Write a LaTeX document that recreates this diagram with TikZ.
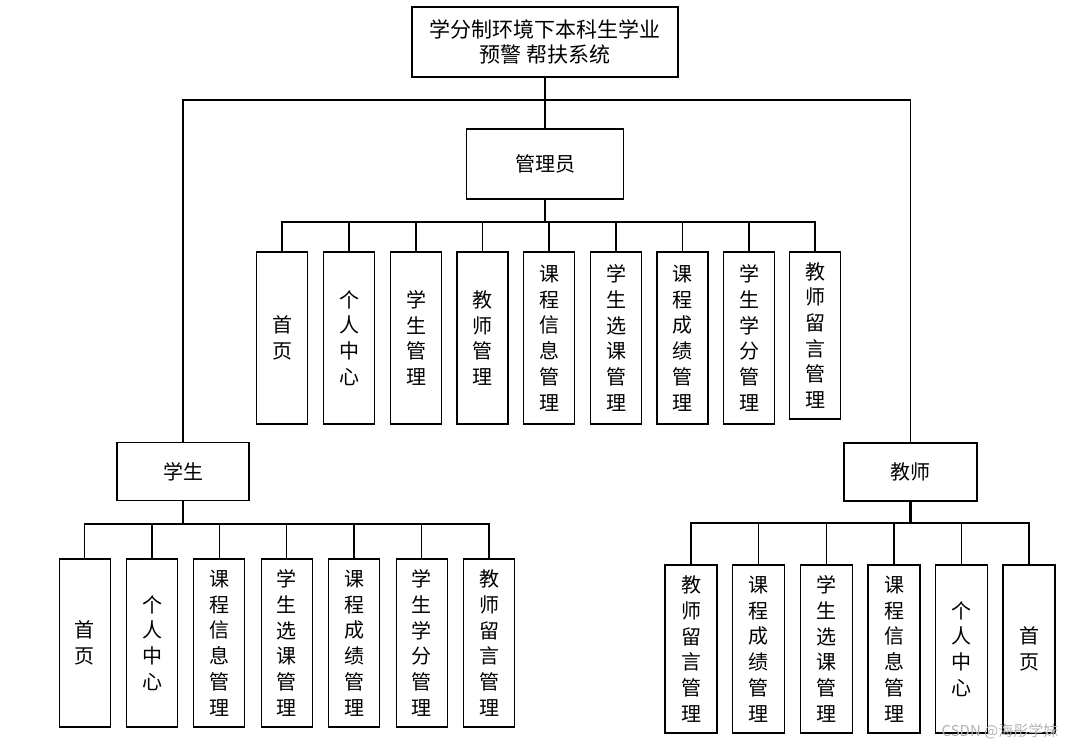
\documentclass[tikz,border=0pt]{standalone}
\usepackage{fontspec}
\newfontfamily\cjk{Noto Sans CJK SC}
\usetikzlibrary{positioning}

\begin{document}
\begin{tikzpicture}[
        x=1pt, y=-1pt,
        font=\cjk\fontsize{20}{25.7}\selectfont,
        box/.style={draw, line width=1.3pt, align=center, inner sep=0pt},
        col/.style={box, minimum width=51pt, minimum height=168pt},
        link/.style={line width=1.5pt},
        stub/.style={line width=2.5pt}
    ]
    \useasboundingbox (0,0) rectangle (1086,748);
    % top levels
    \node[box, minimum width=266pt, minimum height=70pt, font=\cjk\fontsize{21}{25}\selectfont] (sys) at (545,42) {学分制环境下本科生学业\\预警 帮扶系统};
    \node[box, minimum width=157pt, minimum height=70pt] (admin) at (545,164) {管理员};
    \node[box, minimum width=132pt, minimum height=58pt] (stu) at (183,471.5) {学生};
    \node[box, minimum width=133pt, minimum height=58pt] (tea) at (910.5,472) {教师};
    % admin modules
    \node[col, minimum height=172pt] (a1) at (282,338) {首\\页};
    \node[col, minimum height=172pt] (a2) at (349,338) {个\\人\\中\\心};
    \node[col, minimum height=172pt] (a3) at (416,338) {学\\生\\管\\理};
    \node[col, minimum height=172pt] (a4) at (482.5,338) {教\\师\\管\\理};
    \node[col, minimum height=172pt] (a5) at (549,338) {课\\程\\信\\息\\管\\理};
    \node[col, minimum height=172pt] (a6) at (616,338) {学\\生\\选\\课\\管\\理};
    \node[col, minimum height=172pt] (a7) at (682.5,338) {课\\程\\成\\绩\\管\\理};
    \node[col, minimum height=172pt] (a8) at (749,338) {学\\生\\学\\分\\管\\理};
    \node[col, minimum height=167pt] (a9) at (815,335.5) {教\\师\\留\\言\\管\\理};
    % student modules
    \node[col] (s1) at (84.7,643) {首\\页};
    \node[col] (s2) at (152,643) {个\\人\\中\\心};
    \node[col] (s3) at (219.3,643) {课\\程\\信\\息\\管\\理};
    \node[col] (s4) at (286.7,643) {学\\生\\选\\课\\管\\理};
    \node[col] (s5) at (354,643) {课\\程\\成\\绩\\管\\理};
    \node[col] (s6) at (421.7,643) {学\\生\\学\\分\\管\\理};
    \node[col] (s7) at (489,643) {教\\师\\留\\言\\管\\理};
    % teacher modules
    \node[col, minimum width=52pt] (t1) at (691,649) {教\\师\\留\\言\\管\\理};
    \node[col, minimum width=52pt] (t2) at (758.7,649) {课\\程\\成\\绩\\管\\理};
    \node[col, minimum width=52pt] (t3) at (826.3,649) {学\\生\\选\\课\\管\\理};
    \node[col, minimum width=52pt] (t4) at (894,649) {课\\程\\信\\息\\管\\理};
    \node[col, minimum width=52pt] (t5) at (961.7,649) {个\\人\\中\\心};
    \node[col, minimum width=52pt] (t6) at (1029,649) {首\\页};
    \node[text=gray!60, font=\cjk\fontsize{15}{15}\selectfont] (mark) at (1000,731) {CSDN @海彤学妹};

    % connectors
    \coordinate (split) at (545,100);
    \coordinate (abus) at (545,222);
    \coordinate (sbus) at (183,524);
    \coordinate (tbus) at (910.5,523);
    \draw[link] (sys) -- (admin);
    \draw[link] (stu.north) |- (split) -| (tea.north);
    \draw[stub] (admin.south) -- (abus);
    \draw[stub] (stu.south) -- (sbus);
    \draw[stub] (tea.south) -- (tbus);
    \foreach \i in {1,...,9} \draw[link] (abus) -| (a\i.north);
    \foreach \i in {1,...,7} \draw[link] (sbus) -| (s\i.north);
    \foreach \i in {1,...,6} \draw[link] (tbus) -| (t\i.north);
\end{tikzpicture}
\end{document}
